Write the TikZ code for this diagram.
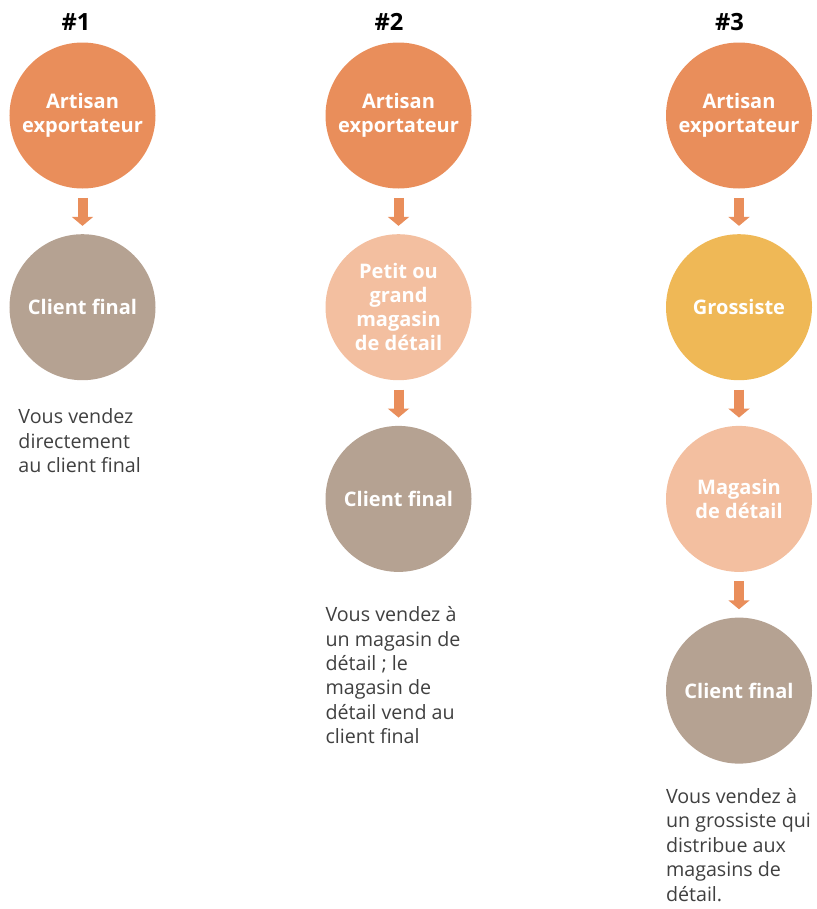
\documentclass[tikz,border=0pt]{standalone}
\usepackage{fontspec}
\setmainfont{Open Sans}
\usepackage{tikz}
\usetikzlibrary{arrows.meta}
\usetikzlibrary{positioning}
\definecolor{artorange}{RGB}{233, 142, 91}
\definecolor{shopsalmon}{RGB}{243, 191, 160}
\definecolor{clienttaupe}{RGB}{181, 162, 146}
\definecolor{wholegold}{RGB}{239, 184, 86}
\definecolor{notegray}{RGB}{64, 64, 64}
\tikzset{
    flow/.style = {
      -{Triangle[length=0.18cm, width=0.42cm]},
      line width=0.2cm,
      draw=artorange,
      shorten <=0.18cm,
      shorten >=0.16cm
    },
    circ/.style = {
      circle,
      minimum size=2.92cm,
      inner sep=0pt,
      align=center,
      text=white,
      font=\fontsize{11.4}{13.6}\selectfont\bfseries
    },
    note/.style = {
      anchor=north west,
      inner sep=0pt,
      align=left,
      text=notegray,
      font=\fontsize{11.2}{13.9}\selectfont
    },
    head/.style = {
      inner sep=0pt,
      font=\fontsize{13.5}{16}\selectfont\bfseries
    },
}

\begin{document}
\begin{tikzpicture}[
        node distance=0.9cm
      ]
        \useasboundingbox (0,0) rectangle (16.34,-18.18);

        % column 1
        \node[circ, fill=artorange] (art1) at (1.65,-2.31) {Artisan\\exportateur};
        \node[circ, fill=clienttaupe, below=of art1] (cli1) {Client final};
        \node[head, above=0.22cm of art1, xshift=-0.13cm] (num1) {\#1};
        \node[note] (txt1) at ([xshift=0.18cm, yshift=-0.56cm]cli1.west |- cli1.south)
          {Vous vendez\\directement\\au client final};
        \draw[flow] (art1) -- (cli1);

        % column 2
        \node[circ, fill=artorange] (art2) at (7.97,-2.31) {Artisan\\exportateur};
        \node[circ, fill=shopsalmon, below=of art2] (shop2) {Petit ou\\grand\\magasin\\de détail};
        \node[circ, fill=clienttaupe, below=of shop2] (cli2) {Client final};
        \node[head, above=0.22cm of art2, xshift=-0.19cm] (num2) {\#2};
        \node[note] (txt2) at ([yshift=-0.68cm]cli2.west |- cli2.south)
          {Vous vendez à\\un magasin de\\détail ; le\\magasin de\\détail vend au\\client final};
        \draw[flow] (art2) -- (shop2);
        \draw[flow] (shop2) -- (cli2);

        % column 3
        \node[circ, fill=artorange] (art3) at (14.78,-2.31) {Artisan\\exportateur};
        \node[circ, fill=wholegold, below=of art3] (whole3) {Grossiste};
        \node[circ, fill=shopsalmon, below=of whole3] (shop3) {Magasin\\de détail};
        \node[circ, fill=clienttaupe, below=of shop3] (cli3) {Client final};
        \node[head, above=0.22cm of art3, xshift=-0.19cm] (num3) {\#3};
        \node[note] (txt3) at ([yshift=-0.48cm]cli3.west |- cli3.south)
          {Vous vendez à\\un grossiste qui\\distribue aux\\magasins de\\détail.};
        \draw[flow] (art3) -- (whole3);
        \draw[flow] (whole3) -- (shop3);
        \draw[flow] (shop3) -- (cli3);
      \end{tikzpicture}
\end{document}
